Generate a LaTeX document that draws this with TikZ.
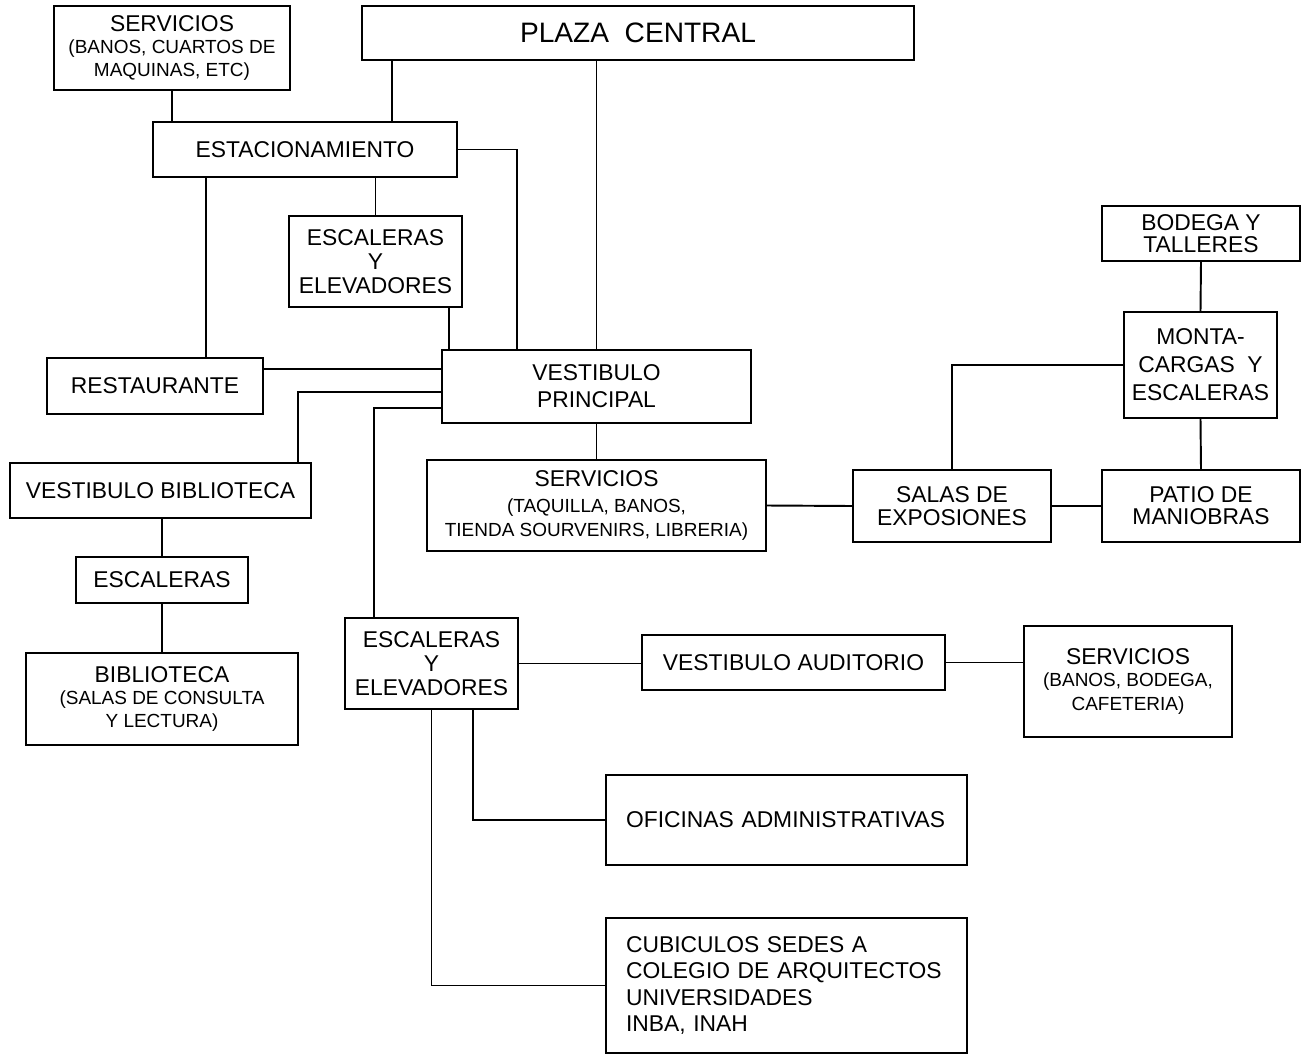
\documentclass[tikz,border=0pt]{standalone}
\usepackage{fontspec}
\setmainfont{Liberation Sans}
\usepackage{tikz}

\newcommand{\subt}{\fontsize{10.8}{14}\selectfont}

\begin{document}
\begin{tikzpicture}[x=0.02cm, y=-0.02cm,
		caja/.style={draw, line width=1.1pt, align=center, inner sep=0pt,
			font=\fontsize{13}{13.5}\selectfont},
		liga/.style={line width=1.1pt}]
		\useasboundingbox (0,0) rectangle (1302,1055);

		\node[caja, minimum width=4.72cm, minimum height=1.68cm] (serv1) at (172,48)
			{SERVICIOS\\[-1pt]\subt (BANOS, CUARTOS DE\\\subt MAQUINAS, ETC)};
		\node[caja, minimum width=11.04cm, minimum height=1.08cm, font=\fontsize{16}{18}\selectfont] (plaza) at (638,33)
			{PLAZA\ \ CENTRAL};
		\node[caja, minimum width=6.08cm, minimum height=1.1cm] (estac) at (305,149.5) {ESTACIONAMIENTO};
		\node[caja, minimum width=3.46cm, minimum height=1.82cm] (escA) at (375.5,261.5) {ESCALERAS\\Y\\ELEVADORES};
		\node[caja, minimum width=4.32cm, minimum height=1.12cm] (rest) at (155,386) {RESTAURANTE};
		\node[caja, minimum width=6.18cm, minimum height=1.46cm] (vp) at (596.5,386.5) {VESTIBULO\\[2pt]PRINCIPAL};
		\node[caja, minimum width=6.02cm, minimum height=1.1cm] (vb) at (160.5,490.5) {VESTIBULO BIBLIOTECA};
		\node[caja, minimum width=3.44cm, minimum height=0.92cm] (escL) at (162,580) {ESCALERAS};
		\node[caja, minimum width=5.44cm, minimum height=1.84cm] (bib) at (162,699)
			{BIBLIOTECA\\[-1pt]\subt (SALAS DE CONSULTA\\\subt Y LECTURA)};
		\node[caja, minimum width=6.78cm, minimum height=1.82cm] (serv2) at (596.5,505.5)
			{SERVICIOS\\[1pt]\subt (TAQUILLA, BANOS,\\\subt TIENDA SOURVENIRS, LIBRERIA)};
		\node[caja, minimum width=3.96cm, minimum height=1.44cm] (salas) at (952,506) {SALAS DE\\EXPOSIONES};
		\node[caja, minimum width=3.96cm, minimum height=1.44cm] (patio) at (1201,506) {PATIO DE\\[-1pt]MANIOBRAS};
		\node[caja, minimum width=3.06cm, minimum height=2.12cm] (monta) at (1200.5,365)
			{MONTA-\\[2.5pt]CARGAS\ \ Y\\[2.5pt]ESCALERAS};
		\node[caja, minimum width=3.96cm, minimum height=1.1cm] (bodega) at (1201,233.5) {BODEGA Y\\[-1pt]TALLERES};
		\node[caja, minimum width=3.46cm, minimum height=1.82cm] (escB) at (431.5,663.5) {ESCALERAS\\Y\\ELEVADORES};
		\node[caja, minimum width=6.06cm, minimum height=1.1cm] (va) at (793.5,662.5) {VESTIBULO AUDITORIO};
		\node[caja, minimum width=4.16cm, minimum height=2.22cm] (serv3) at (1128,681.5)
			{SERVICIOS\\[-1pt]\subt (BANOS, BODEGA,\\\subt CAFETERIA)};
		\node[caja, minimum width=7.22cm, minimum height=1.8cm, inner xsep=0.4cm, text width=6.42cm, align=left] (ofic) at (786.5,820)
			{OFICINAS ADMINISTRATIVAS};
		\node[caja, minimum width=7.22cm, minimum height=2.7cm, inner xsep=0.4cm, text width=6.42cm, align=left] (cubic) at (786.5,985.5)
			{CUBICULOS SEDES A\\[1.5pt]COLEGIO DE ARQUITECTOS\\[1.5pt]UNIVERSIDADES\\[1.5pt]INBA, INAH};

		\draw[liga] (serv1.south) -- (serv1.south |- estac.north);
		\draw[liga] ([xshift=.62cm]plaza.south west) coordinate (p1) -- (p1 |- estac.north);
		\draw[liga] (vp.north |- plaza.south) -- (vp.north);
		\draw[liga] (estac.east) -| ([xshift=1.52cm]vp.north west);
		\draw[liga] (escA.north) -- (escA.north |- estac.south);
		\draw[liga] ([xshift=1.08cm]estac.south west) coordinate (p2) -- (p2 |- rest.north);
		\draw[liga] ([xshift=-.28cm]escA.south east) coordinate (p3) -- (p3 |- vp.north);
		\draw[liga] ([yshift=.34cm]rest.east) coordinate (p4) -- (p4 -| vp.west);
		\draw[liga] ([yshift=-.11cm]vp.west) -| ([xshift=-.28cm]vb.north east);
		\draw[liga] ([yshift=-.43cm]vp.west) -| ([xshift=.6cm]escB.north west);
		\draw[liga] (vp.south) -- (serv2.north);
		\draw[liga] (serv2.east) -- (salas.west);
		\draw[liga] (salas.north) |- (monta.west);
		\draw[liga] (salas.east) -- (patio.west);
		\draw[liga] (monta.south) -- (patio.north);
		\draw[liga] (bodega.south) -- (monta.north);
		\draw[liga] (escL.north |- vb.south) -- (escL.north);
		\draw[liga] (escL.south) -- (bib.north);
		\draw[liga] (escB.east) -- (escB.east -| va.west);
		\draw[liga] (va.east) -- (va.east -| serv3.west);
		\draw[liga] ([xshift=-.92cm]escB.south east) |- (ofic.west);
		\draw[liga] (escB.south) |- (cubic.west);
	\end{tikzpicture}
\end{document}
